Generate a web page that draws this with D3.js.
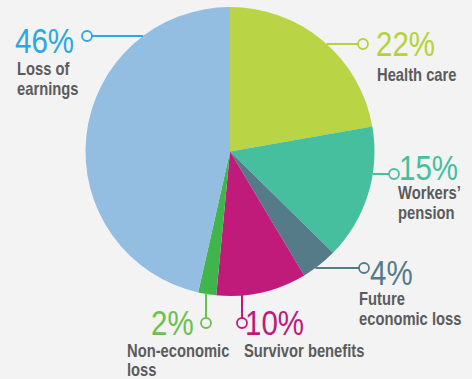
<!DOCTYPE html>
<html>
<head>
<meta charset="utf-8">
<script src="https://cdn.jsdelivr.net/npm/d3@7"></script>
<style>
  html, body { margin: 0; padding: 0; background: #f3f3f3; }
  svg { display: block; }
  .num { font-family: "Liberation Sans", Arial, sans-serif; font-weight: 400; font-size: 36px; }
  .name { font-family: "Liberation Sans", Arial, sans-serif; font-weight: 700; font-size: 18px; fill: #5b5b5d; }
</style>
</head>
<body>
<svg id="chart" width="472" height="379"></svg>
<script>
// Compensation components, clockwise from 12 o'clock
const categories = ["Health care", "Workers’ pension", "Future economic loss", "Survivor benefits", "Non-economic loss", "Loss of earnings"];
const values = [22, 15, 4, 10, 2, 46];
const labelLines = [["Health care"], ["Workers’", "pension"], ["Future", "economic loss"], ["Survivor benefits"], ["Non-economic", "loss"], ["Loss of", "earnings"]];
const sliceColors = ["#b9d445", "#46bf9e", "#557b89", "#c01a7b", "#3fb54b", "#93bde1"];
const labelColors = ["#b5d23a", "#46bf9e", "#557b89", "#c01a7b", "#6cc04e", "#2aa8e0"];

const svg = d3.select("#chart");
const W = 472, H = 379;
svg.append("rect").attr("width", W).attr("height", H).attr("fill", "#f3f3f3");

const cx = 230, cy = 151.5, R = 144.5;

const pie = d3.pie().sort(null).value(d => d.value);
const arc = d3.arc().innerRadius(0).outerRadius(R);
const data = categories.map((c, i) => ({ name: c, value: values[i], i }));

const g = svg.append("g").attr("transform", `translate(${cx},${cy})`);
g.selectAll("path")
  .data(pie(data))
  .join("path")
  .attr("d", arc)
  .attr("fill", d => sliceColors[d.data.i]);

// Callout layout: marker centre, leader direction, number and name placement
const layout = [
  { mx: 363, my: 44,  dir: "h", nx: 376, ny: 56,  tx: 377, ty: [81] },
  { mx: 394, my: 174, dir: "h", nx: 399, ny: 180, tx: 398, ty: [199, 219] },
  { mx: 364, my: 268, dir: "h", nx: 370, ny: 285, tx: 359, ty: [305, 325] },
  { mx: 242, my: 323, dir: "v", nx: 245, ny: 335, tx: 244, ty: [357] },
  { mx: 206, my: 323, dir: "v", nx: 151, ny: 335, tx: 127, ty: [357, 376] },
  { mx: 87,  my: 36,  dir: "h", nx: 15,  ny: 53,  tx: 17,  ty: [75, 95] }
];
const mr = 5;
const squeeze = 0.82; // condensed letterforms

function addText(cls, x, y, str, fill) {
  const t = svg.append("text").attr("class", cls)
    .attr("transform", `translate(${x},${y}) scale(${squeeze},1)`)
    .text(str);
  if (fill) t.attr("fill", fill);
  return t;
}

layout.forEach((L, i) => {
  const col = labelColors[i];
  let x1, y1, x2, y2;
  if (L.dir === "h") {
    const dx = Math.sqrt(R * R - (L.my - cy) ** 2);
    const side = L.mx > cx ? 1 : -1;
    x1 = cx + side * dx; y1 = L.my;
    x2 = L.mx - side * mr; y2 = L.my;
  } else {
    const dy = Math.sqrt(R * R - (L.mx - cx) ** 2);
    x1 = L.mx; y1 = cy + dy - 1;
    x2 = L.mx; y2 = L.my - mr;
  }
  svg.append("line")
    .attr("x1", x1).attr("y1", y1).attr("x2", x2).attr("y2", y2)
    .attr("stroke", col).attr("stroke-width", 2);
  svg.append("circle")
    .attr("cx", L.mx).attr("cy", L.my).attr("r", mr)
    .attr("fill", "#f3f3f3").attr("stroke", col).attr("stroke-width", 1.8);

  addText("num", L.nx, L.ny, values[i] + "%", col);
  labelLines[i].forEach((t, j) => addText("name", L.tx, L.ty[j], t));
});
</script>
</body>
</html>
